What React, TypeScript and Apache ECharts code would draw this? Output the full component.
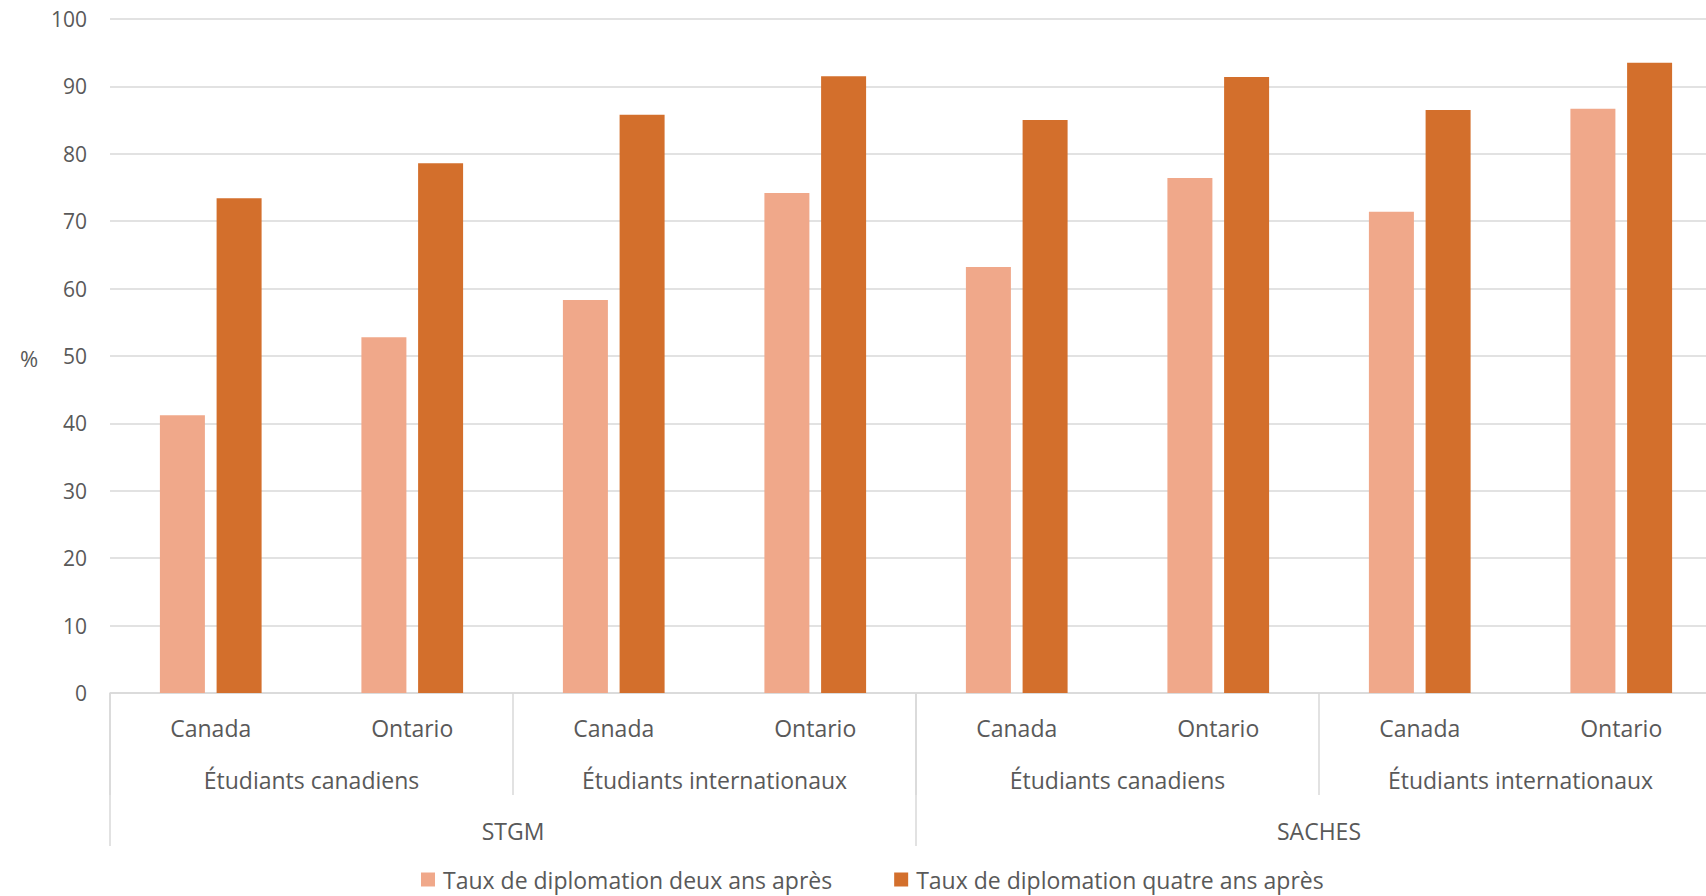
import React, { useEffect, useRef } from "react";
import * as echarts from "echarts";

const categories = ["Canada", "Ontario", "Canada", "Ontario", "Canada", "Ontario", "Canada", "Ontario"];
const studentGroups = ["Étudiants canadiens", "Étudiants internationaux", "Étudiants canadiens", "Étudiants internationaux"];
const programs = ["STGM", "SACHES"];
const seriesNames = ["Taux de diplomation deux ans après", "Taux de diplomation quatre ans après"];
const twoYears = [41.2, 52.8, 58.3, 74.2, 63.2, 76.4, 71.4, 86.7];
const fourYears = [73.4, 78.6, 85.8, 91.5, 85.0, 91.4, 86.5, 93.5];

const FONT = "'Open Sans', sans-serif";
const TXT = "#595959";
const LINE = "#d9d9d9";

export default function App() {
  const ref = useRef<HTMLDivElement>(null);
  useEffect(() => {
    if (!ref.current) return;
    const chart = echarts.init(ref.current, undefined, { renderer: "svg" });
    chart.setOption({
      animation: false,
      backgroundColor: "#ffffff",
      textStyle: { fontFamily: FONT },
      grid: { left: 110, width: 1612, top: 19, height: 674, containLabel: false, outerBoundsMode: "none" },
      legend: {
        data: seriesNames,
        left: 416,
        top: 863,
        icon: "rect",
        itemWidth: 14,
        itemHeight: 14,
        itemGap: 62,
        textStyle: { color: TXT, fontSize: 23, fontFamily: FONT, padding: [0, 0, 0, 3] },
      },
      graphic: [
        {
          type: "text",
          x: 29,
          y: 358,
          style: { text: "%", fill: TXT, font: `22px ${FONT}`, textAlign: "center", textVerticalAlign: "middle" },
        },
      ],
      xAxis: [
        {
          type: "category",
          data: categories,
          gridIndex: 0,
          position: "bottom",
          axisLine: { show: true, lineStyle: { color: LINE, width: 1.5 } },
          axisTick: { show: false },
          axisLabel: { color: TXT, fontSize: 23, fontFamily: FONT, margin: 23, interval: 0 },
        },
        {
          type: "category",
          data: studentGroups,
          gridIndex: 0,
          position: "bottom",
          axisLine: { show: false },
          axisTick: { show: true, length: 102, lineStyle: { color: LINE, width: 1.5 } },
          axisLabel: { color: TXT, fontSize: 23, fontFamily: FONT, margin: 75, interval: 0 },
        },
        {
          type: "category",
          data: programs,
          gridIndex: 0,
          position: "bottom",
          axisLine: { show: false },
          axisTick: { show: true, length: 153, lineStyle: { color: LINE, width: 1.5 } },
          axisLabel: { color: TXT, fontSize: 23, fontFamily: FONT, margin: 126, interval: 0 },
        },
      ],
      yAxis: {
        type: "value",
        min: 0,
        max: 100,
        interval: 10,
        axisLine: { show: false },
        axisTick: { show: false },
        axisLabel: { color: TXT, fontSize: 21, fontFamily: FONT, margin: 23 },
        splitLine: { lineStyle: { color: LINE, width: 1.5 } },
      },
      series: [
        {
          name: seriesNames[0],
          type: "bar",
          xAxisIndex: 0,
          data: twoYears,
          barWidth: 45,
          barGap: "26%",
          itemStyle: { color: "#F0A88A" },
        },
        {
          name: seriesNames[1],
          type: "bar",
          xAxisIndex: 0,
          data: fourYears,
          barWidth: 45,
          barGap: "26%",
          itemStyle: { color: "#D36F2C" },
        },
      ],
    });
    return () => chart.dispose();
  }, []);
  return (
    <div
      ref={ref}
      style={{ position: "fixed", left: 0, top: 0, width: 1706, height: 896, background: "#fff" }}
    />
  );
}
